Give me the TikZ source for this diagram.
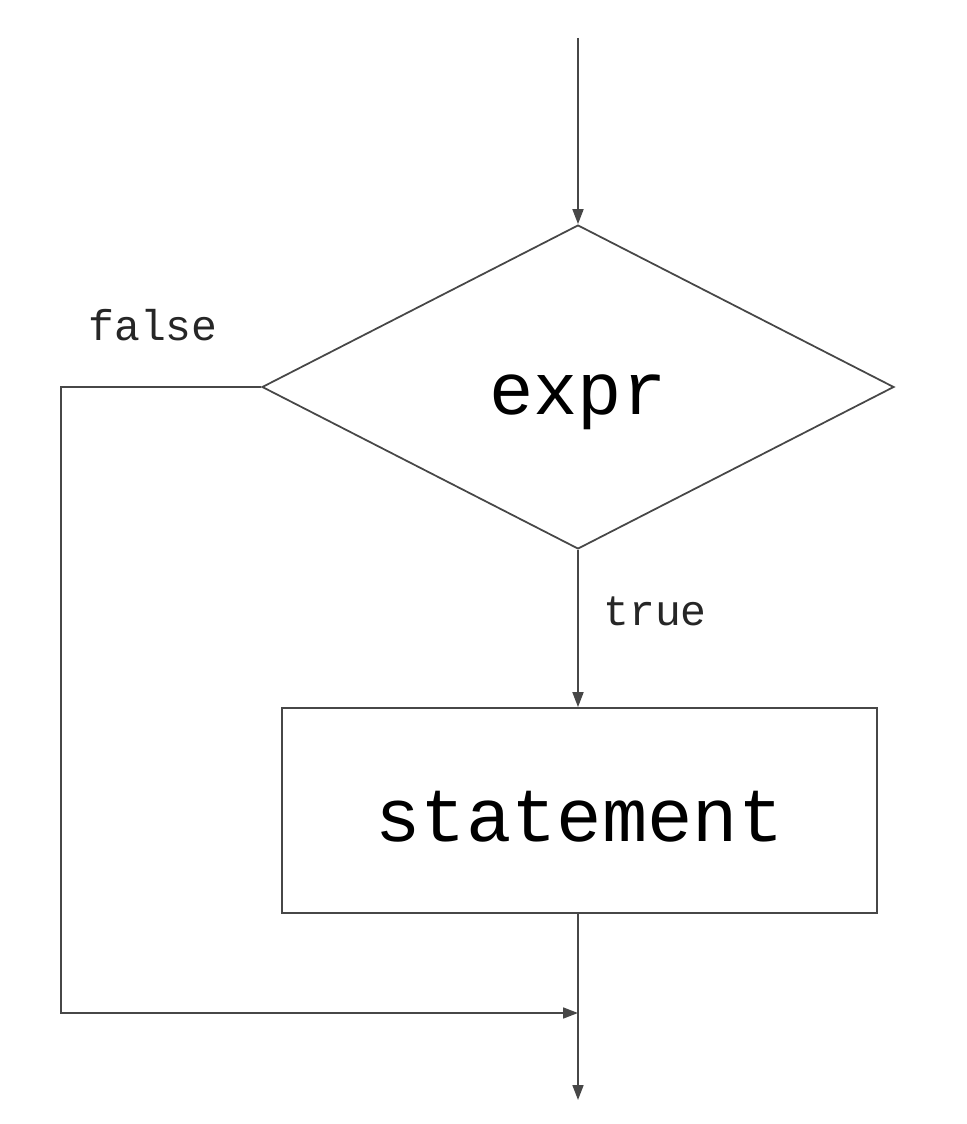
\documentclass[tikz,border=0pt]{standalone}
\usepackage{fontspec}
\setmonofont{Liberation Mono}
\usetikzlibrary{arrows.meta,shapes.geometric,calc}
\definecolor{linegray}{HTML}{474747}

\begin{document}
\begin{tikzpicture}[x=0.02cm,y=-0.02cm,
    flow/.style={draw=linegray, line width=1.1pt},
    arrowed/.style={flow, -{Triangle[length=8.5pt,width=6.2pt]}},
    decision/.style={diamond, draw=linegray, line width=1pt, inner sep=0pt,
        minimum width=12.64cm, minimum height=6.48cm, aspect=1.95,
        text height=1.12cm, text depth=0pt,
        font=\ttfamily\fontsize{42}{42}\selectfont, text=black},
    process/.style={rectangle, draw=linegray, line width=1pt,
        minimum width=11.9cm, minimum height=4.1cm,
        text height=1.22cm, text depth=0pt,
        font=\ttfamily\fontsize{43}{43}\selectfont, text=black},
    branch/.style={font=\ttfamily\fontsize{24.5}{24.5}\selectfont, text=black!85}]
    \useasboundingbox (0,0) rectangle (966,1124);

    % Decision and body
    \coordinate (entry) at (578,38);
    \node[decision] (cond) at (578,387) {expr};
    \node[process] (stmt) at (579.5,810.5) {statement};
    \coordinate (join) at (578,1013);
    \coordinate (exit) at (578,1100);

    % Branch labels
    \node[branch] (lblfalse) at (153,325) {false};
    \node[branch] (lbltrue) at (655,611) {true};

    % Connectors
    \draw[arrowed] (entry) -- (cond.north);
    \draw[arrowed] (cond.south) -- (cond.south |- stmt.north);
    \draw[arrowed] (cond.west) -- ++(-200,0) |- (join);
    \draw[arrowed] (stmt.south -| exit) -- (exit);
\end{tikzpicture}
\end{document}
